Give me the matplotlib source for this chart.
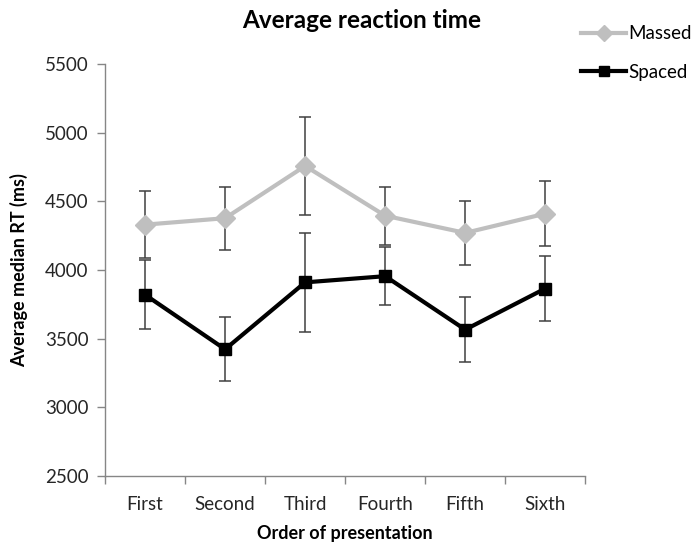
import matplotlib.pyplot as plt
import numpy as np

# --- data ---
orders = ['First', 'Second', 'Third', 'Fourth', 'Fifth', 'Sixth']
massed = [4330, 4377, 4757, 4395, 4270, 4410]
massed_err = [243, 230, 360, 212, 234, 236]
spaced = [3820, 3423, 3910, 3955, 3566, 3865]
spaced_err = [250, 232, 360, 210, 235, 235]

plt.rcParams['font.family'] = ['Lato', 'DejaVu Sans']

fig = plt.figure(figsize=(6.91, 5.46), dpi=100)
ax = fig.add_axes([0.152, 0.128, 0.695, 0.755])

x = np.arange(len(orders))
err_kw = dict(ecolor='#404040', elinewidth=1.1, capsize=4, capthick=1.1)

ax.errorbar(x, massed, yerr=massed_err, color='#bfbfbf', lw=3,
            marker='D', markersize=10.5, markeredgecolor='#bfbfbf',
            label='Massed', zorder=3, **err_kw)
ax.errorbar(x, spaced, yerr=spaced_err, color='black', lw=3,
            marker='s', markersize=9, label='Spaced', zorder=4, **err_kw)

ax.set_xlim(-0.5, len(orders) - 0.5)
ax.set_ylim(2500, 5500)
ax.set_yticks(np.arange(2500, 5501, 500))

# category labels between boundary ticks, Excel style
ax.set_xticks(np.arange(-0.5, len(orders)), minor=False)
ax.set_xticklabels([])
ax.set_xticks(x, minor=True)
ax.set_xticklabels(orders, minor=True, fontsize=13.5, color='#262626')
ax.tick_params(axis='x', which='minor', length=0, pad=14)
ax.tick_params(axis='x', which='major', length=6, color='#868686', width=1)
ax.tick_params(axis='y', length=6, color='#868686', width=1,
               labelsize=13.5, labelcolor='#262626', pad=6)

for side in ['top', 'right']:
    ax.spines[side].set_visible(False)
for side in ['left', 'bottom']:
    ax.spines[side].set_color('#868686')
    ax.spines[side].set_linewidth(1)

ax.set_xlabel('Order of presentation', fontsize=13, fontweight='bold', labelpad=9)
ax.set_ylabel('Average median RT (ms)', fontsize=13, fontweight='bold', labelpad=12)
fig.text(0.524, 0.963, 'Average reaction time', ha='center', va='center',
         fontsize=17.5, fontweight='bold')

handles, labels = ax.get_legend_handles_labels()
handles = [h[0] for h in handles]
leg = fig.legend(handles, labels, loc='upper left', bbox_to_anchor=(0.822, 0.978),
                 frameon=False, fontsize=13.5, handlelength=2.4, handletextpad=0.1,
                 labelspacing=1.15, markerscale=0.75, borderaxespad=0.3)

fig.savefig('out.png', dpi=100)
